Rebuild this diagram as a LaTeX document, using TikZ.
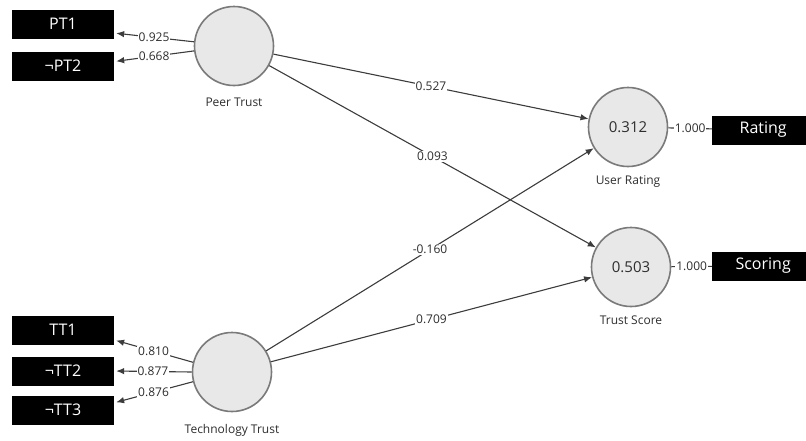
\documentclass[tikz,border=0pt]{standalone}
\usepackage{fontspec}
\setmainfont{Open Sans}
\usepackage{xcolor}
\usetikzlibrary{arrows.meta, positioning}
\definecolor{cline}{HTML}{3C3C3C}
\definecolor{cfill}{HTML}{E8E8E8}
\definecolor{cring}{HTML}{7A7A7A}
\definecolor{ctext}{HTML}{2E2E2E}

\begin{document}
\begin{tikzpicture}[
    x=1pt, y=-1pt,
    latent/.style={circle, minimum size=79pt, inner sep=0pt, fill=cfill,
                   draw=cring, line width=1.6pt, text=ctext,
                   font=\fontsize{15}{17}\selectfont},
    indic/.style={rectangle, minimum width=102pt, minimum height=29pt,
                  inner sep=0pt, fill=black, text=white,
                  font=\fontsize{16}{19}\selectfont},
    cname/.style={text=ctext, font=\fontsize{12}{14}\selectfont},
    coef/.style={fill=white, inner sep=1pt, text=ctext,
                 font=\fontsize{12}{14}\selectfont},
    link/.style={draw=cline, line width=1.1pt, -{Latex[length=8pt, width=6.5pt]}},
    load/.style={link, shorten >=2pt},
    plain/.style={draw=cline, line width=1.1pt},
]
\useasboundingbox (0,0) rectangle (806,440);

\node[latent] (pt) at (234,46)  {};
\node[latent] (tt) at (232,372) {};
\node[latent] (ur) at (628,127) {0.312};
\node[latent] (ts) at (631,267) {0.503};

\node[cname, below=8pt of pt] (ptname) {Peer Trust};
\node[cname, below=9pt of tt] (ttname) {Technology Trust};
\node[cname, below=5pt of ur] (urname) {User Rating};
\node[cname, below=5pt of ts] (tsname) {Trust Score};

\node[indic] (pt1) at (63,24)  {PT1};
\node[indic] (pt2) at (63,66)  {¬PT2};
\node[indic] (tt1) at (63,330) {TT1};
\node[indic] (tt2) at (63,371) {¬TT2};
\node[indic] (tt3) at (63,410) {¬TT3};
\node[indic, anchor=west] (rating)  at (712,130) {Rating};
\node[indic, anchor=west] (scoring) at (712,266) {Scoring};

\draw[load] (pt.174) -- node[coef] {0.925} (pt1.-10);
\draw[load] (pt.187) -- node[coef] {0.668} (pt2.5);
\draw[load] (tt.166) -- node[coef] {0.810} (tt1.-11);
\draw[load] (tt.180) -- node[coef] {0.877} (tt2.0);
\draw[load] (tt.194) -- node[coef] {0.876} (tt3.8);

\draw[link] (pt) -- node[coef] {0.527} (ur);
\draw[link] (pt) -- node[coef] {0.093} (ts);
\draw[link] (tt) -- node[coef] {-0.160} (ur);
\draw[link] (tt) -- node[coef] {0.709} (ts);

\draw[plain] (ur) -- node[coef] {1.000} (rating);
\draw[plain] (ts) -- node[coef] {1.000} (scoring);
\end{tikzpicture}
\end{document}
